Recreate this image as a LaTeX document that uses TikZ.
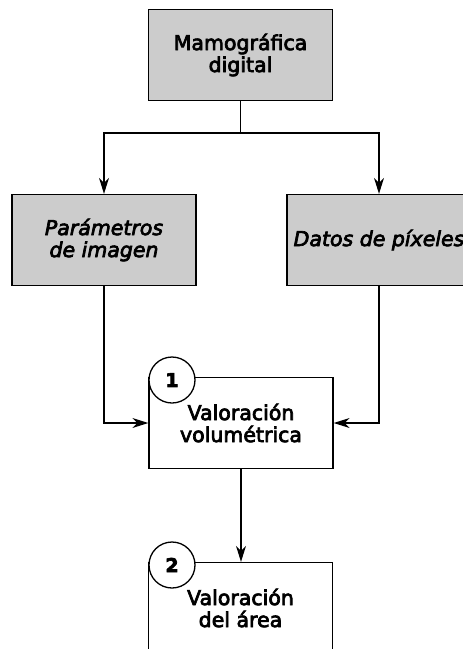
\documentclass[tikz,border=0pt]{standalone}
\usepackage{fontspec}
\setmainfont{DejaVu Sans}[FakeBold=3.5]
\usetikzlibrary{arrows.meta}
\definecolor{boxgray}{RGB}{204,204,204}
\tikzset{
  box/.style={draw, line width=1.3pt, minimum width=184pt, minimum height=91pt, inner sep=0pt, align=center, font=\fontsize{20.5}{22}\selectfont},
  gbox/.style={box, fill=boxgray},
  wbox/.style={box, fill=white},
  num/.style={draw, line width=1.3pt, circle, fill=white, minimum size=46pt, inner sep=0pt, font=\fontsize{19}{19}\selectfont\bfseries},
  conn/.style={line width=1.3pt},
  arr/.style={conn, -{Stealth[length=16pt,width=10pt,inset=5pt]}}
}
\begin{document}
\begin{tikzpicture}[x=1pt,y=-1pt]
\useasboundingbox (0,0) rectangle (463,649);
\clip (0,0) rectangle (463,649);
\node[gbox] (top) at (240.5,55) {Mamográfica\\digital};
\node[gbox] (param) at (104,240) {\itshape Parámetros\\\itshape de imagen};
\node[gbox] (datos) at (379,240) {\itshape Datos de píxeles};
\node[wbox] (vol) at (241,423) {Valoración\\volumétrica};
\node[wbox] (area) at (240.5,608) {Valoración\\del área};
\node[num] (n1) at (172,380) {1};
\node[num] (n2) at (172,565) {2};
\coordinate (split) at (240.5,133);
\draw[conn] (top.south) -- (split);
\draw[arr] (split) -| (param.north);
\draw[arr] (split) -| (datos.north);
\draw[arr] (param.south) |- (vol.west);
\draw[arr] (datos.south) |- (vol.east);
\draw[arr] (vol.south) -- (vol.south |- area.north);
\end{tikzpicture}
\end{document}
